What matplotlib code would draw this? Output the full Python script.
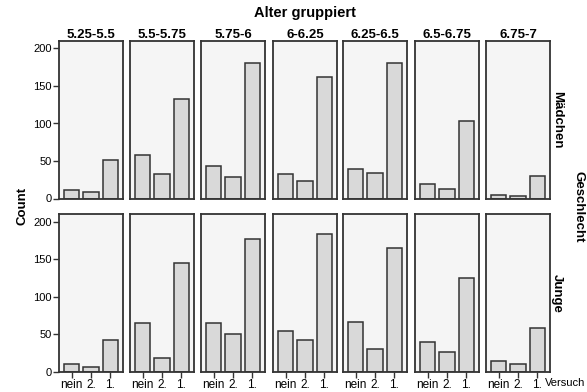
import numpy as np
import matplotlib
matplotlib.use("Agg")
import matplotlib.pyplot as plt

plt.rcParams['font.family'] = ['Liberation Sans', 'DejaVu Sans']

# Altersgruppen (Spalten) und Versuch-Kategorien (x-Achse)
age_groups = ['5.25-5.5', '5.5-5.75', '5.75-6', '6-6.25', '6.25-6.5', '6.5-6.75', '6.75-7']
versuch = ['nein', '2.', '1.']
rows = ['Mädchen', 'Junge']

# Counts je Altersgruppe: [nein, 2., 1.]
maedchen = [[12, 9, 51], [58, 33, 133], [43, 29, 180], [33, 24, 162],
            [39, 34, 180], [20, 13, 103], [5, 3, 30]]
junge = [[10, 6, 42], [65, 18, 145], [65, 51, 177], [55, 42, 183],
         [67, 31, 165], [40, 27, 125], [14, 11, 59]]

yticks = [0, 50, 100, 150, 200]

W, H = 587, 392
fig = plt.figure(figsize=(W / 100, H / 100), dpi=100)

lefts = [59, 130, 201, 273, 343, 415, 486]
pw = 64
row_pos = [(41, 198.5), (214, 372)]  # oben, unten in Pixel
edge = '#333333'

for r, data in enumerate([maedchen, junge]):
    top, bot = row_pos[r]
    for c, vals in enumerate(data):
        ax = fig.add_axes([lefts[c] / W, 1 - bot / H, pw / W, (bot - top) / H])
        ax.set_facecolor('#f5f5f5')
        ax.bar(range(3), vals, width=0.8, color='#d9d9d9', edgecolor=edge, linewidth=1.1)
        ax.set_xlim(-0.65, 2.65)
        ax.set_ylim(0, 210)
        for s in ax.spines.values():
            s.set_color(edge)
            s.set_linewidth(1.3)
        ax.tick_params(length=4, width=1, color=edge, labelsize=8, pad=1)
        ax.tick_params(axis='x', labelsize=8.5)
        if c == 0:
            ax.set_yticks(yticks)
        else:
            ax.set_yticks([])
        if r == 1:
            ax.set_xticks(range(3))
            ax.set_xticklabels(versuch)
        else:
            ax.set_xticks([])
        if r == 0:
            ax.set_title(age_groups[c], fontsize=9.5, fontweight='bold', pad=2)
        if c == len(data) - 1:
            ax.text(1.11, 0.5, rows[r], transform=ax.transAxes, rotation=-90,
                    ha='center', va='center', fontsize=9.5, fontweight='bold')

fig.text(305 / W, 1 - 13 / H, 'Alter gruppiert', ha='center', va='center',
         fontsize=10.5, fontweight='bold')
fig.text(578 / W, 1 - 207 / H, 'Geschlecht', ha='center', va='center',
         rotation=-90, fontsize=9.5, fontweight='bold')
fig.text(22 / W, 1 - 206 / H, 'Count', ha='center', va='center',
         rotation=90, fontsize=9.5, fontweight='bold')
fig.text(545 / W, 1 - 383 / H, 'Versuch', ha='left', va='center', fontsize=8)

fig.savefig('out.png', dpi=100, facecolor='white')
